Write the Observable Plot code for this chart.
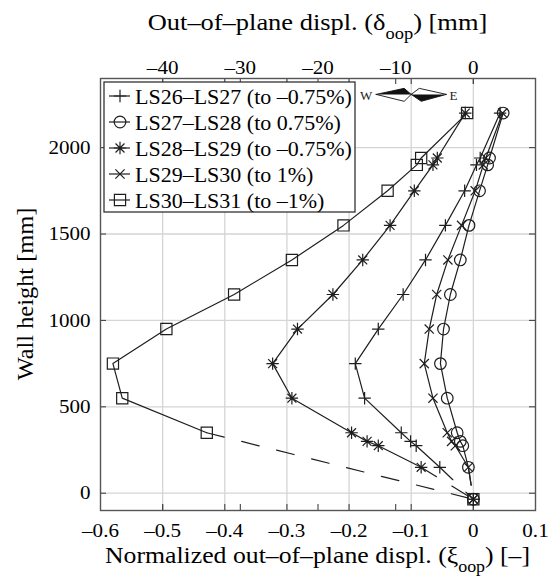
<!DOCTYPE html>
<html>
<head>
<meta charset="utf-8">
<script src="https://cdn.jsdelivr.net/npm/d3@7"></script>
<script src="https://cdn.jsdelivr.net/npm/@observablehq/plot@0.6"></script>
<style>
  body { margin: 0; background: #fff; }
  #chart { position: relative; width: 552px; height: 583px; }
  #chart svg { font-family: "Liberation Serif", "Times New Roman", serif; }
</style>
</head>
<body>
<div id="chart"></div>
<script>
// Measurement levels along the wall height [mm]
const wallHeights = [2200, 1940, 1900, 1750, 1550, 1350, 1150, 950, 750, 550, 350, 300, 275, 150];
// Base reference point shared by every load step
const baseHeight = -35;
const baseDispl = 0;

// Normalized out-of-plane displacement per load step (null = not measured)
const ls26_27 = [0.043, 0.011, 0.005, -0.014, -0.045, -0.077, -0.113, -0.153, -0.190, -0.175, -0.116, -0.101, -0.092, -0.054];
const ls27_28 = [0.048, 0.026, 0.023, 0.010, -0.007, -0.021, -0.037, -0.048, -0.053, -0.042, -0.026, -0.021, -0.017, -0.008];
const ls28_29 = [-0.013, -0.058, -0.065, -0.095, -0.134, -0.178, -0.226, -0.283, -0.323, -0.292, -0.196, -0.171, -0.153, -0.084];
const ls29_30 = [0.047, 0.020, 0.016, 0.003, -0.019, -0.041, -0.059, -0.071, -0.079, -0.065, -0.042, -0.035, -0.029, -0.008];
const ls30_31 = [-0.010, -0.084, -0.091, -0.138, -0.209, -0.292, -0.385, -0.494, -0.580, -0.565, -0.429, null, null, null];

const seriesNames = [
  "LS26\u2013LS27 (to \u20130.75%)",
  "LS27\u2013LS28 (to 0.75%)",
  "LS28\u2013LS29 (to \u20130.75%)",
  "LS29\u2013LS30 (to 1%)",
  "LS30\u2013LS31 (to \u20131%)"
];
const seriesValues = [ls26_27, ls27_28, ls28_29, ls29_30, ls30_31];

// Axis ticks
const xTicks = [-0.6, -0.5, -0.4, -0.3, -0.2, -0.1, 0, 0.1];
const mmTicks = [-40, -30, -20, -10, 0];
const yTicks = [0, 500, 1000, 1500, 2000];
const mmPerUnit = 80; // wall thickness used for normalization

// Compass glyph (W / E direction) in data units
const compass = [
  {part: "lu", tone: "dark", x: -0.1565, y: 2308}, {part: "lu", tone: "dark", x: -0.1113, y: 2343}, {part: "lu", tone: "dark", x: -0.100, y: 2308},
  {part: "ll", tone: "light", x: -0.1565, y: 2308}, {part: "ll", tone: "light", x: -0.1113, y: 2268}, {part: "ll", tone: "light", x: -0.100, y: 2308},
  {part: "ru", tone: "light", x: -0.100, y: 2308}, {part: "ru", tone: "light", x: -0.0871, y: 2343}, {part: "ru", tone: "light", x: -0.0435, y: 2308},
  {part: "rl", tone: "dark", x: -0.100, y: 2308}, {part: "rl", tone: "dark", x: -0.0839, y: 2268}, {part: "rl", tone: "dark", x: -0.0435, y: 2308}
];
const compassLabels = [{t: "W", x: -0.1726, y: 2300}, {t: "E", x: -0.032, y: 2300}];

// ---- marker shapes (r = half extent in px) ----
const rOf = size => Math.sqrt(size / Math.PI);
const symPlus = {draw(c, s) { const r = rOf(s); c.moveTo(-r, 0); c.lineTo(r, 0); c.moveTo(0, -r); c.lineTo(0, r); }};
const symTimes = {draw(c, s) { const r = rOf(s); c.moveTo(-r, -r); c.lineTo(r, r); c.moveTo(-r, r); c.lineTo(r, -r); }};
const symStar = {draw(c, s) { const r = rOf(s), d = r * 0.72; c.moveTo(-r, 0); c.lineTo(r, 0); c.moveTo(0, -r); c.lineTo(0, r); c.moveTo(-d, -d); c.lineTo(d, d); c.moveTo(-d, d); c.lineTo(d, -d); }};
const symSquare = {draw(c, s) { const r = rOf(s); c.moveTo(-r, -r); c.lineTo(r, -r); c.lineTo(r, r); c.lineTo(-r, r); c.closePath(); }};
const symCircle = {draw(c, s) { const r = rOf(s); c.moveTo(r, 0); c.arc(0, 0, r, 0, 2 * Math.PI); }};
const markers = [
  {symbol: symPlus, r: 6.2},
  {symbol: symCircle, r: 5.8},
  {symbol: symStar, r: 6.2},
  {symbol: symTimes, r: 4.6},
  {symbol: symSquare, r: 5.6}
];

// ---- tidy rows ----
const rows = [];
const tails = [];
seriesNames.forEach((name, i) => {
  const vals = seriesValues[i];
  let last = null;
  wallHeights.forEach((h, j) => {
    if (vals[j] != null) { last = {series: name, h, v: vals[j]}; rows.push(last); }
  });
  tails.push(last, {series: name, h: baseHeight, v: baseDispl});
});

const ink = "#1e1e1e";
const textInk = "#000";
const W = 552, H = 583, mL = 100, mR = 17, mT = 78, mB = 73;
const frameW = W - mL - mR, frameH = H - mT - mB;
const tickLen = 6;
const dash = s => s.replace(/[\u2212-]/g, "\u2013");
const fmtX = d => dash(d3.format("~g")(+d.toFixed(2)));
const innerX = [...xTicks.slice(1, -1), ...mmTicks.map(m => m / mmPerUnit)];

const chart = Plot.plot({
  width: W, height: H,
  marginLeft: mL, marginRight: mR, marginTop: mT, marginBottom: mB,
  x: {domain: [-0.6, 0.1]},
  y: {domain: [-100, 2400]},
  style: {fontFamily: "Liberation Serif, Times New Roman, serif", background: "#fff"},
  marks: [
    // grid
    Plot.ruleX(xTicks.slice(1, -1), {stroke: "#d5d5d5", strokeWidth: 1.3}),
    Plot.ruleY(yTicks, {stroke: "#d5d5d5", strokeWidth: 1.3}),
    // inward ticks on all four sides
    Plot.ruleX(innerX, {stroke: "#444", strokeWidth: 1.1, insetBottom: frameH - tickLen}),
    Plot.ruleX(innerX, {stroke: "#444", strokeWidth: 1.1, insetTop: frameH - tickLen}),
    Plot.ruleY(yTicks, {stroke: "#444", strokeWidth: 1.1, insetRight: frameW - tickLen}),
    Plot.ruleY(yTicks, {stroke: "#444", strokeWidth: 1.1, insetLeft: frameW - tickLen}),
    Plot.frame({stroke: "#555", strokeWidth: 1.4}),
    // compass glyph
    Plot.line(compass.filter(d => d.tone === "light"), {x: "x", y: "y", z: "part", fill: "white", stroke: "#111", strokeWidth: 0.9}),
    Plot.line(compass.filter(d => d.tone === "dark"), {x: "x", y: "y", z: "part", fill: "#111", stroke: "#111", strokeWidth: 0.9}),
    Plot.text(compassLabels, {x: "x", y: "y", text: "t", fontSize: 13, fill: "#222"}),
    // dashed connection to the base
    Plot.line(tails, {x: "v", y: "h", z: "series", stroke: ink, strokeWidth: 1.2, strokeDasharray: "18,18"}),
    // measured profiles
    Plot.line(rows, {x: "v", y: "h", z: "series", stroke: ink, strokeWidth: 1.2}),
    ...seriesNames.map((name, i) => Plot.dot(
      [...rows.filter(d => d.series === name), {series: name, h: baseHeight, v: baseDispl}],
      {x: "v", y: "h", symbol: () => markers[i].symbol, r: markers[i].r, fill: "none", stroke: ink, strokeWidth: 1.2}
    )),
    // axes
    Plot.axisX(xTicks, {anchor: "bottom", tickSize: 0, tickPadding: 13, tickFormat: fmtX, fontSize: 19.5, fill: textInk, label: null}),
    Plot.axisX(mmTicks.map(m => m / mmPerUnit), {anchor: "top", tickSize: 0, tickPadding: 5, tickFormat: d => dash(d3.format("d")(Math.round(d * mmPerUnit))), fontSize: 19.5, fill: textInk, label: null}),
    Plot.axisY(yTicks, {anchor: "left", tickSize: 0, tickPadding: 10, tickFormat: d3.format("d"), fontSize: 19.5, fill: textInk, label: null})
  ]
});

document.getElementById("chart").appendChild(chart);
const svg = d3.select(chart);

// widen glyphs of a text element along its reading direction
function widen(node, s) {
  const x = +node.getAttribute("x") || 0;
  const tr = node.getAttribute("transform") || "";
  node.setAttribute("transform", `${tr} translate(${x},0) scale(${s},1) translate(${-x},0)`);
}
svg.selectAll("g[aria-label*='axis'] text").each(function() { widen(this, 1.08); });

// axis titles with subscripts
function title(x, y, rotate, stretch, parts) {
  const t = svg.append("text")
    .attr("transform", `translate(${x},${y})${rotate ? " rotate(-90)" : ""}`)
    .attr("text-anchor", "middle")
    .attr("font-size", 23)
    .attr("fill", textInk);
  parts.forEach(([s, sub]) => {
    const sp = t.append("tspan").text(s);
    if (sub === 1) sp.attr("font-size", 16).attr("dy", 9);
    if (sub === -1) sp.attr("dy", -9);
  });
  widen(t.node(), stretch);
  return t;
}
title(mL + frameW / 2, 30, false, 1.15, [["Out\u2013of\u2013plane displ. (\u03b4"], ["oop", 1], [") [mm]", -1]]);
title(mL + frameW / 2, 563, false, 1.12, [["Normalized out\u2013of\u2013plane displ. (\u03be"], ["oop", 1], [") [\u2013]", -1]]);
title(33, mT + frameH / 2, true, 1.06, [["Wall height [mm]"]]);

// legend box
const lg = svg.append("g").attr("transform", "translate(104,82)");
lg.append("rect").attr("width", 251).attr("height", 130).attr("fill", "white").attr("stroke", "#333").attr("stroke-width", 1.3);
seriesNames.forEach((name, i) => {
  const y = 14 + 26 * i;
  lg.append("line").attr("x1", 5).attr("x2", 26).attr("y1", y).attr("y2", y).attr("stroke", ink).attr("stroke-width", 1.2);
  lg.append("path").attr("transform", `translate(16,${y})`)
    .attr("d", d3.symbol(markers[i].symbol, Math.PI * markers[i].r ** 2)())
    .attr("fill", "none").attr("stroke", ink).attr("stroke-width", 1.2);
  lg.append("text").attr("x", 31).attr("y", y).attr("dy", "0.35em")
    .attr("text-anchor", "start")
    .attr("font-size", 22).attr("fill", textInk).text(name);
});
</script>
</body>
</html>
